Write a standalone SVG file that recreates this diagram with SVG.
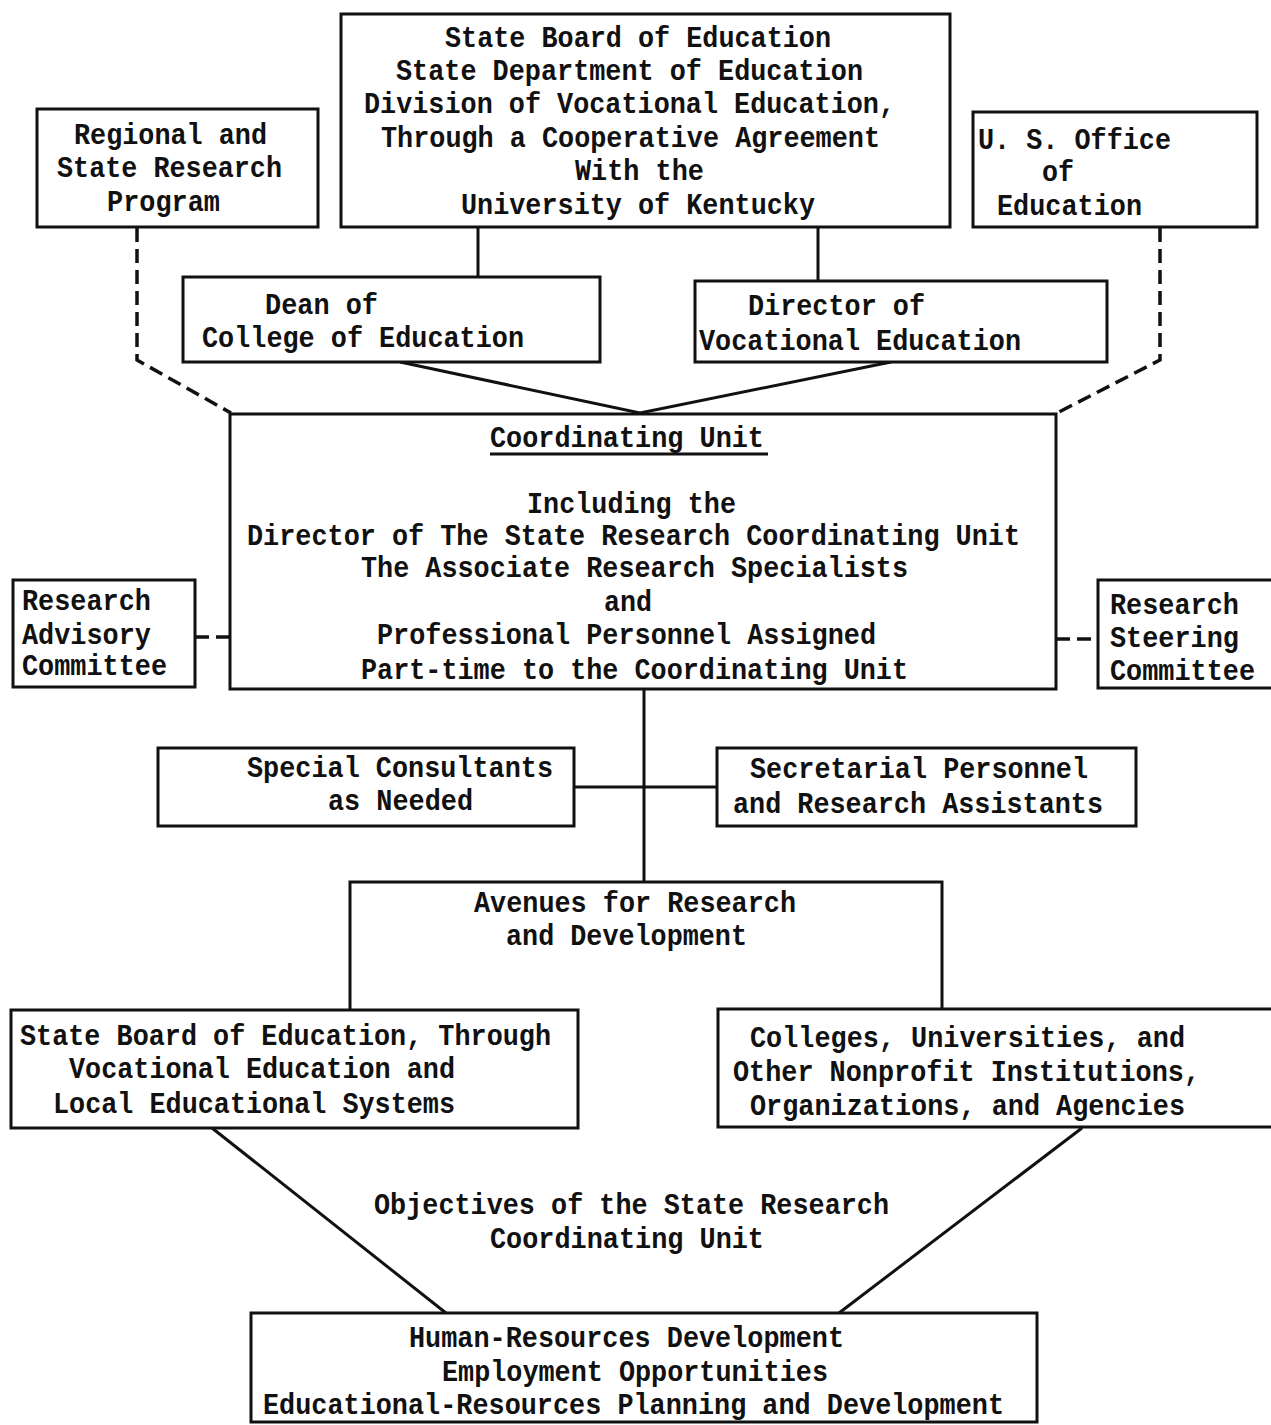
<svg xmlns="http://www.w3.org/2000/svg" width="1271" height="1425" viewBox="0 0 1271 1425">
<style>
.box{fill:#fff;stroke:#111;stroke-width:3}
.ln{fill:none;stroke:#111;stroke-width:3}
.dash{fill:none;stroke:#111;stroke-width:3.5;stroke-dasharray:14 7}
text{font-family:"Liberation Mono","Courier New",monospace;font-weight:bold;font-size:30px;fill:#111}
</style>
<rect width="1271" height="1425" fill="#fff"/>
<g id="connectors">
<line class="ln" x1="478" y1="227" x2="478" y2="277"/>
<line class="ln" x1="818" y1="227" x2="818" y2="281"/>
<polyline class="ln" points="400,362 640,413 891,362"/>
<polyline class="dash" points="137,228 137,360 231,413"/>
<polyline class="dash" points="1160,228 1160,360 1057,413"/>
<line class="dash" x1="195" y1="637" x2="229" y2="637" stroke-dasharray="9 4"/>
<line class="dash" x1="1056" y1="639" x2="1098" y2="639" stroke-dasharray="9 4"/>
<line class="ln" x1="644" y1="689" x2="644" y2="882"/>
<line class="ln" x1="574" y1="787" x2="717" y2="787"/>
<line class="ln" x1="212" y1="1128" x2="446" y2="1313"/>
<line class="ln" x1="1082" y1="1128" x2="839" y2="1313"/>
</g>
<g id="state-board-top">
<rect class="box" x="341" y="14" width="609" height="213"/>
<text x="445" y="47" textLength="386" lengthAdjust="spacingAndGlyphs">State Board of Education</text>
<text x="396" y="80" textLength="467" lengthAdjust="spacingAndGlyphs">State Department of Education</text>
<text x="364" y="113" textLength="531" lengthAdjust="spacingAndGlyphs">Division of Vocational Education,</text>
<text x="381" y="147" textLength="499" lengthAdjust="spacingAndGlyphs">Through a Cooperative Agreement</text>
<text x="575" y="180" textLength="129" lengthAdjust="spacingAndGlyphs">With the</text>
<text x="461" y="214" textLength="354" lengthAdjust="spacingAndGlyphs">University of Kentucky</text>
</g>
<g id="regional">
<rect class="box" x="37" y="109" width="281" height="118"/>
<text x="74" y="144" textLength="193" lengthAdjust="spacingAndGlyphs">Regional and</text>
<text x="57" y="177" textLength="225" lengthAdjust="spacingAndGlyphs">State Research</text>
<text x="107" y="211" textLength="113" lengthAdjust="spacingAndGlyphs">Program</text>
</g>
<g id="us-office">
<rect class="box" x="973" y="112" width="284" height="115"/>
<text x="978" y="149" textLength="193" lengthAdjust="spacingAndGlyphs">U. S. Office</text>
<text x="1042" y="181" textLength="32" lengthAdjust="spacingAndGlyphs">of</text>
<text x="997" y="215" textLength="145" lengthAdjust="spacingAndGlyphs">Education</text>
</g>
<g id="dean">
<rect class="box" x="183" y="277" width="417" height="85"/>
<text x="265" y="314" textLength="113" lengthAdjust="spacingAndGlyphs">Dean of</text>
<text x="202" y="347" textLength="322" lengthAdjust="spacingAndGlyphs">College of Education</text>
</g>
<g id="director-voc">
<rect class="box" x="695" y="281" width="412" height="81"/>
<text x="748" y="315" textLength="177" lengthAdjust="spacingAndGlyphs">Director of</text>
<text x="699" y="350" textLength="322" lengthAdjust="spacingAndGlyphs">Vocational Education</text>
</g>
<g id="coordinating-unit">
<rect class="box" x="230" y="414" width="826" height="275"/>
<text x="490" y="447" textLength="274" lengthAdjust="spacingAndGlyphs">Coordinating Unit</text>
<line class="ln" x1="490" y1="454" x2="768" y2="454" stroke-width="2.5"/>
<text x="527" y="513" textLength="209" lengthAdjust="spacingAndGlyphs">Including the</text>
<text x="247" y="545" textLength="773" lengthAdjust="spacingAndGlyphs">Director of The State Research Coordinating Unit</text>
<text x="361" y="577" textLength="547" lengthAdjust="spacingAndGlyphs">The Associate Research Specialists</text>
<text x="604" y="611" textLength="48" lengthAdjust="spacingAndGlyphs">and</text>
<text x="377" y="644" textLength="499" lengthAdjust="spacingAndGlyphs">Professional Personnel Assigned</text>
<text x="361" y="679" textLength="547" lengthAdjust="spacingAndGlyphs">Part-time to the Coordinating Unit</text>
</g>
<g id="advisory">
<rect class="box" x="13" y="580" width="182" height="107"/>
<text x="22" y="610" textLength="129" lengthAdjust="spacingAndGlyphs">Research</text>
<text x="22" y="644" textLength="129" lengthAdjust="spacingAndGlyphs">Advisory</text>
<text x="22" y="675" textLength="145" lengthAdjust="spacingAndGlyphs">Committee</text>
</g>
<g id="steering">
<polyline class="box" points="1271,580 1098,580 1098,688 1271,688"/>
<text x="1110" y="614" textLength="129" lengthAdjust="spacingAndGlyphs">Research</text>
<text x="1110" y="647" textLength="129" lengthAdjust="spacingAndGlyphs">Steering</text>
<text x="1110" y="680" textLength="145" lengthAdjust="spacingAndGlyphs">Committee</text>
</g>
<g id="consultants">
<rect class="box" x="158" y="748" width="416" height="78"/>
<text x="247" y="777" textLength="306" lengthAdjust="spacingAndGlyphs">Special Consultants</text>
<text x="328" y="810" textLength="145" lengthAdjust="spacingAndGlyphs">as Needed</text>
</g>
<g id="secretarial">
<rect class="box" x="717" y="748" width="419" height="78"/>
<text x="750" y="778" textLength="338" lengthAdjust="spacingAndGlyphs">Secretarial Personnel</text>
<text x="733" y="813" textLength="370" lengthAdjust="spacingAndGlyphs">and Research Assistants</text>
</g>
<g id="avenues">
<polyline class="ln" points="350,1010 350,882 942,882 942,1010"/>
<text x="474" y="912" textLength="322" lengthAdjust="spacingAndGlyphs">Avenues for Research</text>
<text x="506" y="945" textLength="241" lengthAdjust="spacingAndGlyphs">and Development</text>
</g>
<g id="state-board-local">
<rect class="box" x="11" y="1010" width="567" height="118"/>
<text x="20" y="1045" textLength="531" lengthAdjust="spacingAndGlyphs">State Board of Education, Through</text>
<text x="69" y="1078" textLength="386" lengthAdjust="spacingAndGlyphs">Vocational Education and</text>
<text x="53" y="1113" textLength="402" lengthAdjust="spacingAndGlyphs">Local Educational Systems</text>
</g>
<g id="colleges">
<polyline class="box" points="1271,1009 718,1009 718,1127 1271,1127"/>
<text x="750" y="1047" textLength="435" lengthAdjust="spacingAndGlyphs">Colleges, Universities, and</text>
<text x="733" y="1081" textLength="467" lengthAdjust="spacingAndGlyphs">Other Nonprofit Institutions,</text>
<text x="750" y="1115" textLength="435" lengthAdjust="spacingAndGlyphs">Organizations, and Agencies</text>
</g>
<g id="objectives-label">
<text x="374" y="1214" textLength="515" lengthAdjust="spacingAndGlyphs">Objectives of the State Research</text>
<text x="490" y="1248" textLength="274" lengthAdjust="spacingAndGlyphs">Coordinating Unit</text>
</g>
<g id="objectives">
<rect class="box" x="251" y="1313" width="786" height="109"/>
<text x="409" y="1347" textLength="435" lengthAdjust="spacingAndGlyphs">Human-Resources Development</text>
<text x="442" y="1381" textLength="386" lengthAdjust="spacingAndGlyphs">Employment Opportunities</text>
<text x="263" y="1414" textLength="741" lengthAdjust="spacingAndGlyphs">Educational-Resources Planning and Development</text>
</g>
</svg>
